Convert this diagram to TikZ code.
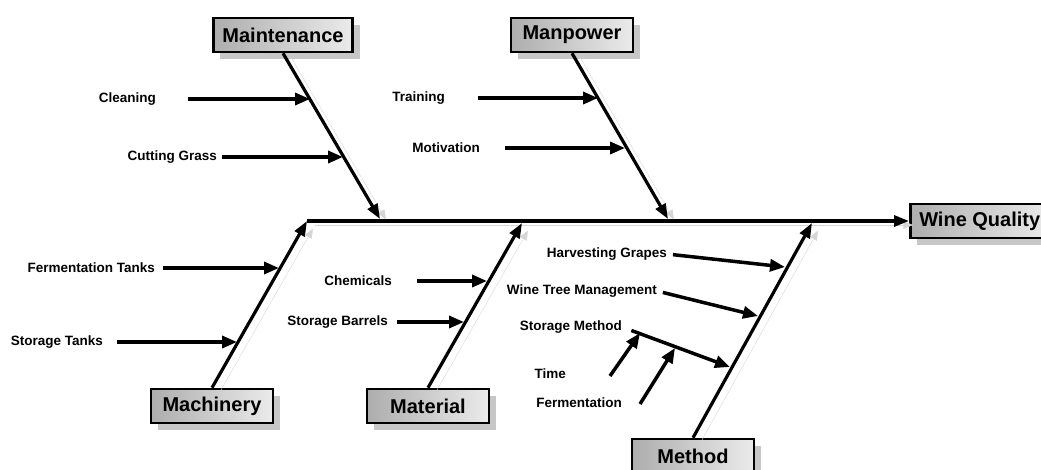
\documentclass[tikz,border=0pt]{standalone}
\usepackage{fontspec}
\setmainfont{Liberation Sans}
\usetikzlibrary{arrows.meta,shadows}

\begin{document}
\begin{tikzpicture}[
x=1pt, y=-1pt,
font=\bfseries\fontsize{13.5}{16}\selectfont,
cat/.style={draw, line width=2.5pt, minimum width=122pt, minimum height=34pt, inner xsep=9pt,
  left color=black!32, right color=black!8, font=\bfseries\fontsize{20}{24}\selectfont,
  drop shadow={shadow xshift=7pt, shadow yshift=-7pt, fill=black!22, opacity=1}},
cause/.style={inner sep=0pt, anchor=east},
bone/.style={line width=3.2pt, -{Triangle[length=15pt,width=11pt]},
  preaction={draw=black!16, transform canvas={shift={(8pt,-4pt)}}}},
arrow/.style={line width=3.5pt, -{Triangle[length=15pt,width=12pt]}}
]
\useasboundingbox (0,0) rectangle (1041,469);

% spine and effect
\coordinate (spineL) at (307,221);
\node[cat, anchor=west] (wq) at (909,221) {Wine Quality};
\draw[bone] (spineL) -- (wq);

% categories
\node[cat] (mnt) at (283,35) {Maintenance};
\node[cat] (mpw) at (572,35) {Manpower};
\node[cat] (mach) at (212,406) {Machinery};
\node[cat] (mat) at (428,406) {Material};
\node[cat] (mth) at (693,456) {Method};

\coordinate (mntTip) at (380,219);
\coordinate (mpwTip) at (668,219);
\coordinate (matTip) at (522,223);
\coordinate (mthTip) at (812,223);
\draw[bone] (mnt.south) -- (mntTip);
\draw[bone] (mpw.south) -- (mpwTip);
\draw[bone] (mach.north) -- (spineL);
\draw[bone] (mat.north) -- (matTip);
\draw[bone] (mth.north) -- (mthTip);

% Maintenance
\node[cause] (clean) at (156,99) {Cleaning};
\node[cause] (grass) at (217,157) {Cutting Grass};
\coordinate (cleanTip) at (310,99);
\coordinate (grassTip) at (343,157);
\draw[arrow, shorten <=32pt] (clean.east) -- (cleanTip);
\draw[arrow, shorten <=5pt] (grass.east) -- (grassTip);

% Manpower
\node[cause] (train) at (445,98) {Training};
\node[cause] (motiv) at (480,148) {Motivation};
\coordinate (trainTip) at (598,98);
\coordinate (motivTip) at (625,148);
\draw[arrow, shorten <=33pt] (train.east) -- (trainTip);
\draw[arrow, shorten <=25pt] (motiv.east) -- (motivTip);

% Machinery
\node[cause] (ftank) at (155,268) {Fermentation Tanks};
\node[cause] (stank) at (103,342) {Storage Tanks};
\coordinate (ftankTip) at (279,268);
\coordinate (stankTip) at (237,342);
\draw[arrow, shorten <=8pt] (ftank.east) -- (ftankTip);
\draw[arrow, shorten <=14pt] (stank.east) -- (stankTip);

% Material
\node[cause] (chem) at (392,281) {Chemicals};
\node[cause] (barrel) at (388,322) {Storage Barrels};
\coordinate (chemTip) at (487,281);
\coordinate (barrelTip) at (464,322);
\draw[arrow, shorten <=25pt] (chem.east) -- (chemTip);
\draw[arrow, shorten <=9pt] (barrel.east) -- (barrelTip);

% Method
\node[cause] (harv) at (667,254) {Harvesting Grapes};
\node[cause] (tree) at (657,291) {Wine Tree Management};
\node[cause] (smeth) at (622,327) {Storage Method};
\node[cause] (time) at (566,374) {Time};
\node[cause] (ferm) at (622,403) {Fermentation};
\coordinate (harvTip) at (785,267);
\coordinate (treeTip) at (758,316);
\coordinate (smethTip) at (730,367);
\coordinate (timeTail) at (610,376);
\coordinate (timeTip) at (640,333);
\coordinate (fermTail) at (640,404);
\coordinate (fermTip) at (675,348);
\draw[arrow, shorten <=6pt] (harv.east) -- (harvTip);
\draw[arrow, shorten <=6pt] (tree.east) -- (treeTip);
\draw[arrow, shorten <=10pt] (smeth.east) -- (smethTip);
\draw[arrow] (timeTail) -- (timeTip);
\draw[arrow] (fermTail) -- (fermTip);
\end{tikzpicture}
\end{document}
